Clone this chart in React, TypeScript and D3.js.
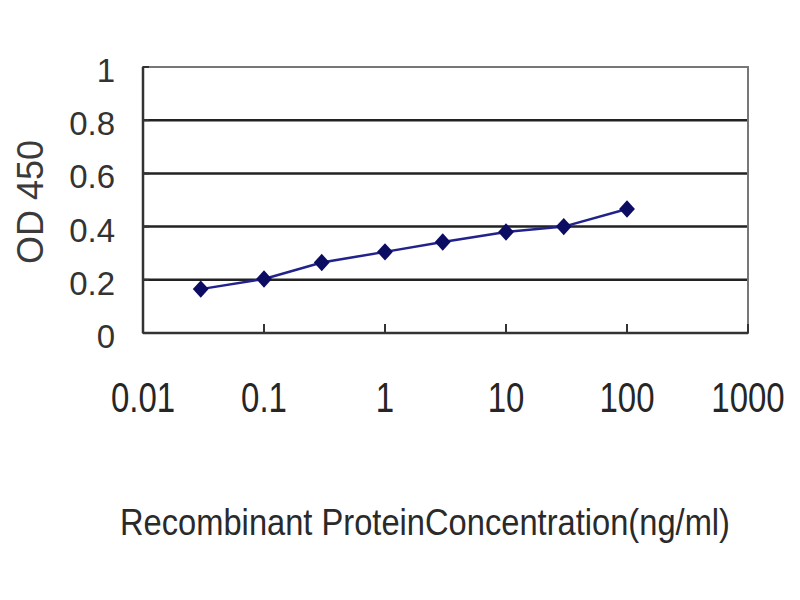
import React from 'react';
import * as d3 from 'd3';

// concentration (ng/ml) and OD450
const concentrations = [0.03, 0.1, 0.3, 1, 3, 10, 30, 100];
const odValues = [0.165, 0.203, 0.265, 0.305, 0.342, 0.38, 0.4, 0.466];
const xTicks = [0.01, 0.1, 1, 10, 100, 1000];
const xTickLabels = ['0.01', '0.1', '1', '10', '100', '1000'];
const yTicks = [0, 0.2, 0.4, 0.6, 0.8, 1];
const yTickLabels = ['0', '0.2', '0.4', '0.6', '0.8', '1'];

const FONT = '"Liberation Sans", Arial, sans-serif';

const App: React.FC = () => {
  const svgRef = React.useRef<SVGSVGElement>(null);

  React.useEffect(() => {
    const plot = { left: 143, right: 748, top: 67, bottom: 333 };

    const xScale = d3.scaleLog().domain([0.01, 1000]).range([plot.left, plot.right]);
    const yScale = d3.scaleLinear().domain([0, 1]).range([plot.bottom, plot.top]);

    const svg = d3.select(svgRef.current);
    svg.selectAll('*').remove();

    svg.append('rect').attr('width', 800).attr('height', 600).attr('fill', '#fff');

    // horizontal grid lines
    svg
      .append('g')
      .selectAll('line')
      .data(yTicks.filter((t) => t > 0 && t < 1))
      .enter()
      .append('line')
      .attr('x1', plot.left)
      .attr('x2', plot.right)
      .attr('y1', (d) => yScale(d))
      .attr('y2', (d) => yScale(d))
      .attr('stroke', '#222')
      .attr('stroke-width', 2.5);

    // plot frame
    svg
      .append('rect')
      .attr('x', plot.left)
      .attr('y', plot.top)
      .attr('width', plot.right - plot.left)
      .attr('height', plot.bottom - plot.top)
      .attr('fill', 'none')
      .attr('stroke', '#777')
      .attr('stroke-width', 2);

    // left + bottom axes darker
    svg
      .append('line')
      .attr('x1', plot.left)
      .attr('x2', plot.left)
      .attr('y1', plot.top)
      .attr('y2', plot.bottom)
      .attr('stroke', '#333')
      .attr('stroke-width', 2.5);
    svg
      .append('line')
      .attr('x1', plot.left)
      .attr('x2', plot.right)
      .attr('y1', plot.bottom)
      .attr('y2', plot.bottom)
      .attr('stroke', '#333')
      .attr('stroke-width', 2.5);

    // x ticks pointing inward
    svg
      .append('g')
      .selectAll('line')
      .data(xTicks)
      .enter()
      .append('line')
      .attr('x1', (d) => xScale(d))
      .attr('x2', (d) => xScale(d))
      .attr('y1', plot.bottom)
      .attr('y2', plot.bottom - 9)
      .attr('stroke', '#333')
      .attr('stroke-width', 2);

    // y ticks
    svg
      .append('g')
      .selectAll('line')
      .data(yTicks)
      .enter()
      .append('line')
      .attr('x1', plot.left)
      .attr('x2', plot.left + 6)
      .attr('y1', (d) => yScale(d))
      .attr('y2', (d) => yScale(d))
      .attr('stroke', '#333')
      .attr('stroke-width', 2);

    // y tick labels
    svg
      .append('g')
      .selectAll('text')
      .data(yTicks)
      .enter()
      .append('text')
      .attr('x', 115)
      .attr('y', (d) => yScale(d) + 15)
      .attr('text-anchor', 'end')
      .attr('font-family', FONT)
      .attr('font-size', 33)
      .attr('fill', '#333')
      .text((d, i) => yTickLabels[i]);

    // x tick labels (stretched vertically like the original)
    svg
      .append('g')
      .selectAll('text')
      .data(xTicks)
      .enter()
      .append('text')
      .attr('transform', (d) => `translate(${xScale(d)},412) scale(1,1.3)`)
      .attr('text-anchor', 'middle')
      .attr('font-family', FONT)
      .attr('font-size', 33)
      .attr('fill', '#262626')
      .text((d, i) => xTickLabels[i]);

    // axis titles
    svg
      .append('text')
      .attr('transform', 'translate(43,202) rotate(-90)')
      .attr('text-anchor', 'middle')
      .attr('font-family', FONT)
      .attr('font-size', 36)
      .attr('fill', '#3a3a3a')
      .text('OD 450');

    svg
      .append('text')
      .attr('transform', 'translate(120,535) scale(1,1.3)')
      .attr('font-family', FONT)
      .attr('font-size', 28)
      .attr('textLength', 610)
      .attr('lengthAdjust', 'spacingAndGlyphs')
      .attr('fill', '#2a2a2a')
      .text('Recombinant ProteinConcentration(ng/ml)');

    // the line
    const points: [number, number][] = concentrations.map((c, i) => [xScale(c), yScale(odValues[i])]);
    const line = d3.line();
    svg
      .append('path')
      .attr('d', line(points))
      .attr('fill', 'none')
      .attr('stroke', '#22228c')
      .attr('stroke-width', 2.5);

    // diamond markers
    const diamond = d3.symbol().type(d3.symbolDiamond2).size(160);
    svg
      .append('g')
      .selectAll('path')
      .data(points)
      .enter()
      .append('path')
      .attr('d', diamond() as string)
      .attr('transform', (d) => `translate(${d[0]},${d[1]}) scale(1,1.1)`)
      .attr('fill', '#0c0c62');
  }, []);

  return (
    <svg
      ref={svgRef}
      width={800}
      height={600}
      style={{ position: 'absolute', left: 0, top: 0, display: 'block' }}
    />
  );
};

export default App;
